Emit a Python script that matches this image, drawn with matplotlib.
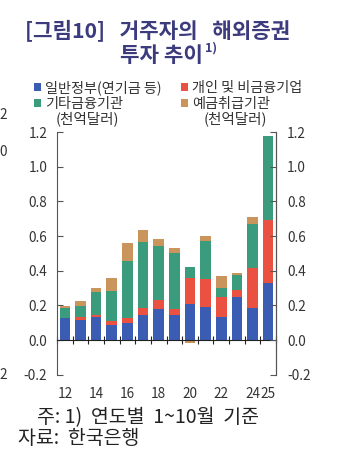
import matplotlib.pyplot as plt
import numpy as np
from matplotlib.ticker import FixedLocator

plt.rcParams['font.family'] = ['Noto Sans CJK KR', 'DejaVu Sans']

# Residents' overseas securities investment by sector (Jan-Oct of each year)
years = ['12', '13', '14', '15', '16', '17', '18', '19', '20', '21', '22', '23', '24', '25']
tick_labels = ['12', '', '14', '', '16', '', '18', '', '20', '', '22', '', '24', '25']
general_gov = [0.125, 0.115, 0.131, 0.088, 0.096, 0.144, 0.177, 0.144, 0.208, 0.188, 0.131, 0.250, 0.183, 0.329]
household = [0.004, 0.016, 0.015, 0.020, 0.031, 0.041, 0.054, 0.035, 0.148, 0.164, 0.119, 0.038, 0.230, 0.365]
other_fin = [0.054, 0.065, 0.129, 0.177, 0.331, 0.382, 0.309, 0.325, 0.063, 0.217, 0.048, 0.089, 0.254, 0.485]
deposit = [0.011, 0.027, 0.025, 0.075, 0.100, 0.068, 0.045, 0.025, -0.020, 0.029, 0.073, 0.010, 0.041, 0.000]

series = [
    ('일반정부(연기금 등)', general_gov, '#3a5cb2'),
    ('개인 및 비금융기업', household, '#ea5141'),
    ('기타금융기관', other_fin, '#3a9c7c'),
    ('예금취급기관', deposit, '#c9955c'),
]

fig = plt.figure(figsize=(3.38, 4.55), dpi=100)
ax = fig.add_axes([57 / 338, 1 - 374.7 / 455, 219 / 338, 242.7 / 455])

x = np.arange(len(years))
pos_base = np.zeros(len(years))
neg_base = np.zeros(len(years))
handles = {}
for name, vals, color in series:
    vals = np.array(vals)
    base = np.where(vals >= 0, pos_base, neg_base)
    b = ax.bar(x, vals, 0.68, bottom=base, color=color, zorder=2, label=name)
    handles[name] = b
    pos_base += np.clip(vals, 0, None)
    neg_base += np.clip(vals, None, 0)

ax.set_xlim(-0.5, len(years) - 0.5)
ax.set_ylim(-0.2, 1.2)
yt = np.round(np.arange(-0.2, 1.21, 0.2), 1)
ax.set_yticks(yt)
ax.set_yticklabels([f'{v:.1f}' for v in yt])

ax.spines['top'].set_visible(False)
ax.spines['bottom'].set_position(('data', 0))
ax.spines['bottom'].set_zorder(3)
ax.spines['bottom'].set_color('#222222')
for s in ['left', 'right']:
    ax.spines[s].set_color('#555555')

ax.set_xticks(x)
ax.set_xticklabels(tick_labels)
ax.xaxis.set_minor_locator(FixedLocator(np.arange(-0.5, len(years), 1.0)))
ax.tick_params(axis='x', which='major', length=0, pad=34, labelsize=9.8, labelcolor='#333333')
ax.tick_params(axis='x', which='minor', direction='inout', length=6, width=0.8, color='#222222')
ax.tick_params(axis='y', direction='in', length=4, width=0.8, color='#555555',
               labelsize=9.8, labelcolor='#333333', pad=7)

ax2 = ax.twinx()
ax2.set_ylim(ax.get_ylim())
ax2.set_yticks(yt)
ax2.set_yticklabels([f'{v:.1f}' for v in yt])
ax2.tick_params(axis='y', direction='in', length=4, width=0.8, color='#555555',
                labelsize=9.8, labelcolor='#333333', pad=8)
for s in ['top', 'bottom', 'left']:
    ax2.spines[s].set_visible(False)
ax2.spines['right'].set_color('#555555')

# titles and units
title_color = '#3b3b7d'
fig.text(158 / 338, 1 - 30 / 455, '[그림10]   거주자의   해외증권', ha='center', va='center',
         fontsize=15.3, fontweight='bold', color=title_color)
fig.text(203 / 338, 1 - 55 / 455, '투자 추이', ha='right', va='center',
         fontsize=15.3, fontweight='bold', color=title_color)
fig.text(205 / 338, 1 - 48 / 455, '1)', ha='left', va='center',
         fontsize=9, fontweight='bold', color=title_color)

fig.text(87 / 338, 1 - 119 / 455, '(천억달러)', ha='center', va='center', fontsize=10.5, color='#333333')
fig.text(235 / 338, 1 - 119 / 455, '(천억달러)', ha='center', va='center', fontsize=10.5, color='#333333')

order = ['일반정부(연기금 등)', '기타금융기관', '개인 및 비금융기업', '예금취급기관']
fig.legend([handles[n] for n in order], order, ncol=2, frameon=False,
           loc='upper left', bbox_to_anchor=(28 / 338, 1 - 75 / 455),
           fontsize=10.2, handlelength=0.5, handleheight=0.5, handletextpad=0.3,
           columnspacing=1.35, labelspacing=0.12, labelcolor='#333333', borderaxespad=0)

# notes
fig.text(37 / 338, 1 - 418 / 455, '주: 1)  연도별  1~10월  기준', ha='left', va='center',
         fontsize=14, color='#222222')
fig.text(18 / 338, 1 - 439 / 455, '자료:  한국은행', ha='left', va='center',
         fontsize=14, color='#222222')

# edge of neighbouring panel
for yy, s in [(115, '2'), (152, '0'), (375, '2')]:
    fig.text(-1 / 338, 1 - yy / 455, s, ha='left', va='center', fontsize=9.8, color='#333333')

fig.savefig('out.png', dpi=100)
